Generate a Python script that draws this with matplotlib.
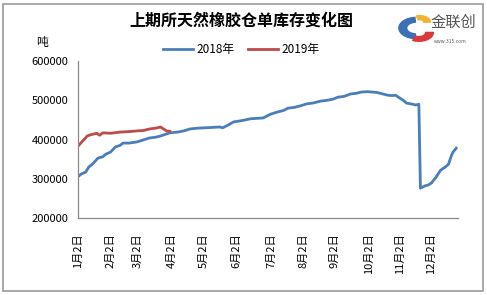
import matplotlib
matplotlib.use("Agg")
import matplotlib.pyplot as plt
from matplotlib.patches import Wedge, Rectangle

plt.rcParams['font.family'] = ['Noto Sans CJK SC', 'DejaVu Sans']

# trading-day index and warehouse receipt stock (tons)
day_2018 = [0, 2, 5, 7, 10, 12, 13, 16, 18, 21, 24, 27, 29, 33, 38, 42, 46, 50, 53, 56,
            59, 64, 68, 72, 77, 82, 87, 91, 93, 97, 100, 105, 111, 115, 119, 124, 128,
            132, 135, 139, 143, 147, 151, 156, 160, 164, 167, 171, 175, 179, 182, 186,
            189, 192, 194, 197, 199, 202, 204, 207, 209, 211, 215, 217, 219, 220, 223,
            225, 227, 230, 233, 236, 238, 240, 241, 243]
val_2018 = [305000, 312000, 317000, 330000, 340000, 349000, 353000, 356000, 363000,
            368000, 381000, 385000, 391000, 391000, 394000, 399000, 404000, 406000,
            409000, 413000, 417000, 419000, 422000, 427000, 429000, 430000, 431000,
            432000, 430000, 438000, 445000, 448000, 453000, 454000, 455000, 465000,
            470000, 474000, 480000, 482000, 486000, 491000, 493000, 498000, 500000,
            503000, 508000, 510000, 516000, 518000, 521000, 522000, 521000, 520000,
            518000, 515000, 513000, 512000, 513000, 505000, 500000, 493000, 490000,
            488000, 490000, 276000, 282000, 284000, 289000, 304000, 322000, 330000,
            337000, 360000, 368000, 378000]

day_2019 = [0, 3, 6, 8, 10, 12, 14, 16, 21, 27, 32, 38, 42, 46, 50, 53, 55, 57, 59]
val_2019 = [383000, 396000, 409000, 412000, 414000, 416000, 411000, 417000, 416000,
            419000, 420000, 422000, 423000, 427000, 429000, 432000, 427000, 422000, 421000]

tick_days = [0, 21, 38, 60, 81, 102, 124, 145, 165, 187, 207, 227]
tick_labels = ['1月2日', '2月2日', '3月2日', '4月2日', '5月2日', '6月2日', '7月2日',
               '8月2日', '9月2日', '10月2日', '11月2日', '12月2日']
y_ticks = [200000, 300000, 400000, 500000, 600000]

fig = plt.figure(figsize=(4.87, 2.95), dpi=100)
ax = fig.add_axes([0.160, 0.261, 0.780, 0.532])

ax.plot(day_2018, val_2018, color='#4a7ebb', lw=2.0, label='2018年')
ax.plot(day_2019, val_2019, color='#be4b48', lw=2.0, label='2019年')

ax.set_xlim(0, 244)
ax.set_ylim(200000, 600000)
ax.set_yticks(y_ticks)
ax.set_yticklabels([str(v) for v in y_ticks], fontsize=8)
ax.set_xticks(tick_days)
ax.set_xticklabels(tick_labels, rotation=90, fontsize=8)
ax.tick_params(axis='y', length=0, pad=7)
ax.tick_params(axis='x', length=0, pad=11)
for s in ['top', 'right']:
    ax.spines[s].set_visible(False)
for s in ['left', 'bottom']:
    ax.spines[s].set_color('#888888')
    ax.spines[s].set_linewidth(0.9)

ax.legend(loc='lower center', bbox_to_anchor=(0.43, 1.0), ncol=2, frameon=False,
          fontsize=8.5, handlelength=2.5, columnspacing=1.2, handletextpad=0.3,
          borderaxespad=0.0)

fig.text(0.495, 0.93, '上期所天然橡胶仓单库存变化图', ha='center', va='center',
         fontsize=11.5, fontweight='bold')
fig.text(0.087, 0.857, '吨', ha='center', va='center', fontsize=8.5)

# logo
fig.patches.append(Wedge((0.855, 0.905), 0.036, 95, 265, width=0.016,
                         transform=fig.transFigure, color='#3b6fb6'))
fig.patches.append(Wedge((0.86, 0.89), 0.03, 245, 360, width=0.016,
                         transform=fig.transFigure, color='#d93a3a'))
fig.patches.append(Wedge((0.862, 0.925), 0.022, 0, 110, width=0.014,
                         transform=fig.transFigure, color='#f2b430'))
fig.text(0.885, 0.925, '金联创', ha='left', va='center', fontsize=11, color='#555555')
fig.text(0.89, 0.86, 'www.315.com', ha='left', va='center', fontsize=3.5, color='#555555')

fig.patches.append(Rectangle((0.006, 0.012), 0.986, 0.976, transform=fig.transFigure,
                             fill=False, edgecolor='#999999', lw=1.2))

fig.savefig('out.png', dpi=100)
